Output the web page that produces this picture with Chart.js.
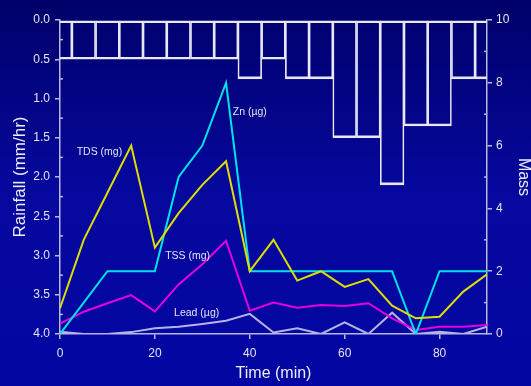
<!DOCTYPE html>
<html>
<head>
<meta charset="utf-8">
<script src="https://cdn.jsdelivr.net/npm/chart.js@4/dist/chart.umd.min.js"></script>
<style>
  html, body { margin: 0; padding: 0; width: 531px; height: 386px; overflow: hidden;
    background: linear-gradient(to bottom, #00006a 0%, #06089e 50%, #0306a2 100%); }
  #wrap { width: 531px; height: 386px; position: relative; }
  canvas { display: block; }
</style>
</head>
<body>
<div id="wrap"><canvas id="c" width="531" height="386"></canvas></div>
<script>
// ---- data ----
const timeMin   = [0, 5, 10, 15, 20, 25, 30, 35, 40, 45, 50, 55, 60, 65, 70, 75, 80, 85, 90];
const rainfall  = [0.5, 0.5, 0.5, 0.5, 0.5, 0.5, 0.5, 0.5, 0.75, 0.5, 0.75, 0.75, 1.5, 1.5, 2.1, 1.35, 1.35, 0.75, 0.75];
const tdsMg     = [0.82, 3.0, 4.5, 6.0, 2.75, 3.85, 4.75, 5.5, 2.0, 3.0, 1.7, 2.0, 1.5, 1.75, 0.9, 0.5, 0.55, 1.35, 1.9];
const znUg      = [0, 1.0, 2.0, 2.0, 2.0, 5.0, 6.0, 8.0, 2.0, 2.0, 2.0, 2.0, 2.0, 2.0, 2.0, 0, 2.0, 2.0, 2.0];
const tssMg     = [0.33, 0.71, 0.98, 1.24, 0.72, 1.58, 2.22, 2.97, 0.74, 1.0, 0.84, 0.92, 0.89, 0.98, 0.5, 0.13, 0.23, 0.23, 0.29];
const leadUg    = [0.07, 0, 0, 0.06, 0.18, 0.23, 0.32, 0.42, 0.64, 0.05, 0.18, 0, 0.37, 0, 0.68, 0, 0.07, 0, 0.23];

const timeTicks          = [0, 20, 40, 60, 80];
const rainfallTicks      = [0, 0.5, 1, 1.5, 2, 2.5, 3, 3.5, 4];
const rainfallMinorTicks = [0.25, 0.75, 1.25, 1.75, 2.25, 2.75, 3.25, 3.75];
const massTicks          = [0, 2, 4, 6, 8, 10];
const massMinorTicks     = [1, 3, 5, 7, 9];

// ---- styling ----
const FONT = '"Liberation Sans", Arial, sans-serif';
const axisColor  = '#b8b8e0';
const tickColor  = '#e4e4f2';
const titleColor = '#ececf6';
const barColor   = '#e8e8f4';

const pts = arr => timeMin.map((t, i) => ({ x: t, y: arr[i] }));

const decorPlugin = {
  id: 'decor',
  afterDraw(chart, args, opts) {
    const ctx = chart.ctx;
    const { x, yR, yM } = chart.scales;
    ctx.save();
    ctx.strokeStyle = axisColor;
    ctx.lineWidth = 1.5;
    rainfallMinorTicks.forEach(v => {
      const py = yR.getPixelForValue(v);
      ctx.beginPath(); ctx.moveTo(yR.right, py); ctx.lineTo(yR.right + 3, py); ctx.stroke();
    });
    massMinorTicks.forEach(v => {
      const py = yM.getPixelForValue(v);
      ctx.beginPath(); ctx.moveTo(yM.left, py); ctx.lineTo(yM.left - 3, py); ctx.stroke();
    });
    ctx.fillStyle = tickColor;
    ctx.font = '10.5px ' + FONT;
    ctx.textAlign = 'center';
    ctx.textBaseline = 'middle';
    opts.labels.forEach(l => {
      ctx.fillText(l.text, x.getPixelForValue(l.t), yM.getPixelForValue(l.m));
    });
    ctx.restore();
  }
};

const gridOpts = { display: true, drawOnChartArea: false, drawTicks: true, tickLength: 5, color: axisColor, lineWidth: 1.5, offset: false };
const borderOpts = { display: true, color: axisColor, width: 1.5 };

new Chart(document.getElementById('c'), {
  type: 'line',
  data: {
    datasets: [
      { label: 'TDS (mg)', data: pts(tdsMg), yAxisID: 'yM', borderColor: '#dede00', borderWidth: 2, pointRadius: 0, tension: 0 },
      { label: 'Zn (µg)', data: pts(znUg), yAxisID: 'yM', borderColor: '#00e2e6', borderWidth: 2, pointRadius: 0, tension: 0 },
      { label: 'TSS (mg)', data: pts(tssMg), yAxisID: 'yM', borderColor: '#e600e0', borderWidth: 2, pointRadius: 0, tension: 0 },
      { label: 'Lead (µg)', data: pts(leadUg), yAxisID: 'yM', borderColor: '#b4b4e6', borderWidth: 2, pointRadius: 0, tension: 0 },
      { type: 'bar', label: 'Rainfall', data: pts(rainfall), yAxisID: 'yR',
        backgroundColor: 'rgba(0,0,0,0)', borderColor: barColor,
        borderWidth: { top: 2, bottom: 2, left: 1, right: 1 }, borderSkipped: false,
        barPercentage: 1, categoryPercentage: 1, grouped: false,
        clip: { left: 0, right: 0, top: 2, bottom: 0 } }
    ]
  },
  options: {
    responsive: false,
    animation: false,
    devicePixelRatio: 1,
    layout: { padding: { top: 20, left: 0, right: 0, bottom: 0 } },
    plugins: {
      legend: { display: false },
      tooltip: { enabled: false },
      decor: {
        labels: [
          { text: 'TDS (mg)', t: 8.3, m: 5.8 },
          { text: 'Zn (µg)', t: 40.0, m: 7.07 },
          { text: 'TSS (mg)', t: 26.9, m: 2.48 },
          { text: 'Lead (µg)', t: 28.8, m: 0.68 }
        ]
      }
    },
    scales: {
      x: {
        type: 'linear', position: 'bottom', min: 0, max: 90, offset: false,
        afterBuildTicks: s => { s.ticks = timeTicks.map(v => ({ value: v })); },
        afterFit: s => { s.height = 52; },
        grid: gridOpts, border: borderOpts,
        ticks: { color: tickColor, font: { family: FONT, size: 12 }, padding: 7, maxRotation: 0 },
        title: { display: true, text: 'Time (min)', color: titleColor, font: { family: FONT, size: 16 }, padding: { top: 0, bottom: 3 } }
      },
      yR: {
        type: 'linear', position: 'left', reverse: true, min: 0, max: 4,
        afterBuildTicks: s => { s.ticks = rainfallTicks.map(v => ({ value: v })); },
        afterFit: s => { s.width = 60; },
        grid: gridOpts, border: borderOpts,
        ticks: { color: tickColor, font: { family: FONT, size: 12 }, padding: 5, callback: v => Number(v).toFixed(1) },
        title: { display: true, text: 'Rainfall (mm/hr)', color: titleColor, font: { family: FONT, size: 17 }, padding: { top: 10, bottom: 0 } }
      },
      yM: {
        type: 'linear', position: 'right', min: 0, max: 10,
        afterBuildTicks: s => { s.ticks = massTicks.map(v => ({ value: v })); },
        afterFit: s => { s.width = 44; },
        grid: gridOpts, border: borderOpts,
        ticks: { color: tickColor, font: { family: FONT, size: 12 }, padding: 4 },
        title: { display: true, text: 'Mass', color: titleColor, font: { family: FONT, size: 16, lineHeight: 1 }, padding: { top: 0, bottom: 0 } }
      }
    }
  },
  plugins: [decorPlugin]
});
</script>
</body>
</html>
